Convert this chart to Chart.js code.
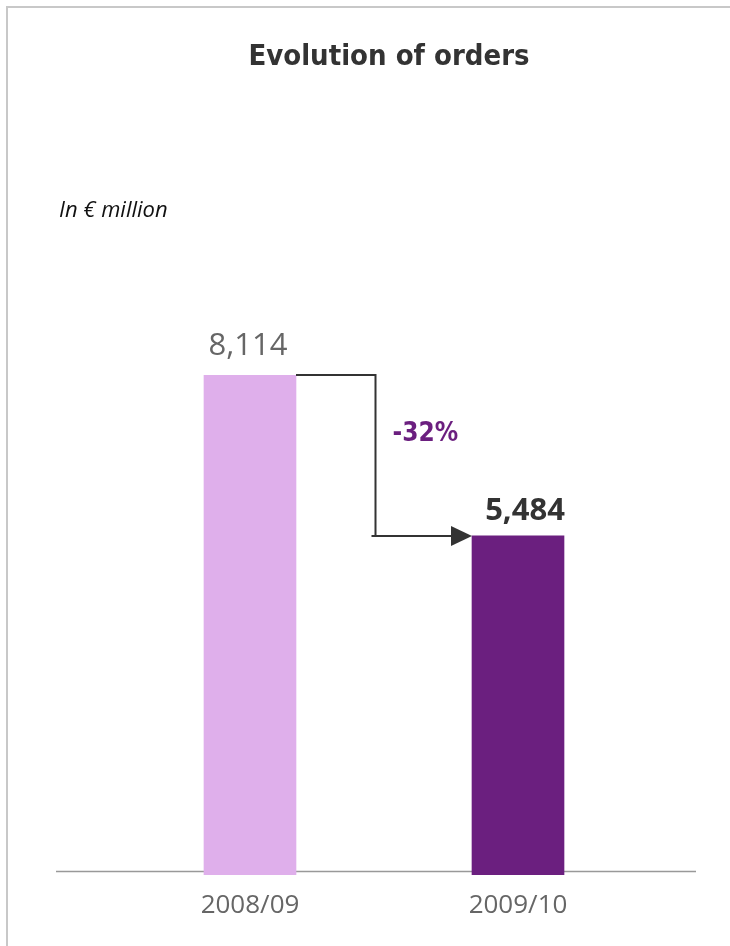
<!DOCTYPE html>
<html>
<head>
<meta charset="utf-8">
<script src="https://cdn.jsdelivr.net/npm/chart.js@4.4.1/dist/chart.umd.min.js"></script>
<style>
  html, body { margin: 0; padding: 0; background: #fff; }
  #wrap { width: 730px; height: 946px; position: relative; }
</style>
</head>
<body>
<div id="wrap"><canvas id="ordersChart"></canvas></div>
<script>
// data
const years = ['2008/09', '2009/10'];
const orders = [8114, 5484];
const barColors = ['#dfafeb', '#6b1f7f'];

const fmt = v => v.toLocaleString('en-US');

// frame, baseline, title, unit, value labels and change arrow
const decor = {
    id: 'decor',
    beforeDraw(chart) {
        const c = chart.ctx;
        c.save();
        c.fillStyle = '#fff';
        c.fillRect(0, 0, chart.width, chart.height);
        c.strokeStyle = '#c8c8c8';
        c.lineWidth = 2;
        c.beginPath();
        c.moveTo(7, 946);
        c.lineTo(7, 7);
        c.lineTo(730, 7);
        c.stroke();
        c.restore();
    },
    beforeDatasetsDraw(chart) {
        const c = chart.ctx;
        const y0 = Math.round(chart.scales.y.getPixelForValue(0)) + 0.5;
        c.save();
        c.strokeStyle = '#999';
        c.lineWidth = 1.5;
        c.beginPath();
        c.moveTo(56, y0);
        c.lineTo(696, y0);
        c.stroke();
        c.restore();
    },
    afterDatasetsDraw(chart) {
        const c = chart.ctx;
        const bars = chart.getDatasetMeta(0).data;
        c.save();

        // title
        c.fillStyle = '#333';
        c.textAlign = 'center';
        c.textBaseline = 'alphabetic';
        c.font = "bold 29px 'DejaVu Sans Condensed', 'Liberation Sans Narrow', sans-serif";
        c.fillText('Evolution of orders', 389, 65);

        // unit
        c.textAlign = 'left';
        c.fillStyle = '#111';
        c.font = "italic 22px 'Open Sans', sans-serif";
        c.fillText('In € million', 59, 217);

        // value labels
        c.textAlign = 'center';
        c.fillStyle = '#666';
        c.font = "31px 'Open Sans', sans-serif";
        c.fillText(fmt(orders[0]), bars[0].x - 2, bars[0].y - 20);
        c.fillStyle = '#333';
        c.font = "bold 31px 'Open Sans', sans-serif";
        c.fillText(fmt(orders[1]), bars[1].x + 7, bars[1].y - 16);

        // arrow
        const b0 = bars[0], b1 = bars[1];
        const x1 = b0.x + b0.width / 2;
        const xm = x1 + 79.5;
        const xt = b1.x - b1.width / 2;
        c.strokeStyle = '#333';
        c.lineWidth = 2;
        c.beginPath();
        c.moveTo(x1, Math.round(b0.y));
        c.lineTo(xm, Math.round(b0.y));
        c.lineTo(xm, Math.round(b1.y));
        c.moveTo(xm - 4, Math.round(b1.y));
        c.lineTo(xt - 18, Math.round(b1.y));
        c.stroke();
        c.fillStyle = '#333';
        c.beginPath();
        c.moveTo(xt, Math.round(b1.y));
        c.lineTo(xt - 21, Math.round(b1.y) - 10);
        c.lineTo(xt - 21, Math.round(b1.y) + 10);
        c.closePath();
        c.fill();

        // change
        const pct = Math.round((orders[1] / orders[0] - 1) * 100);
        c.textAlign = 'left';
        c.fillStyle = '#6b1f7f';
        c.font = "bold 26px 'DejaVu Sans Condensed', 'Open Sans', sans-serif";
        c.fillText(pct + '%', xm + 17, 441);

        c.restore();
    }
};

new Chart(
document.getElementById('ordersChart'),
{
    type: 'bar',
    data: {
        labels: years,
        datasets: [{
            data: orders,
            backgroundColor: barColors,
            barThickness: 92,
            base: -65
        }]
    },
    options: {
        responsive: true,
        maintainAspectRatio: false,
        animation: false,
        events: [],
        layout: {
            padding: { top: 260, left: 116, right: 78, bottom: 0 }
        },
        plugins: {
            legend: { display: false },
            tooltip: { enabled: false }
        },
        scales: {
            x: {
                grid: { display: false, drawTicks: false },
                border: { display: false },
                ticks: {
                    color: '#666',
                    padding: 15,
                    font: { family: "'Open Sans', sans-serif", size: 26 }
                },
                afterFit: s => { s.height = 71; }
            },
            y: {
                display: false,
                min: -65,
                max: 10000
            }
        }
    },
    plugins: [decor]
});
</script>
</body>
</html>
